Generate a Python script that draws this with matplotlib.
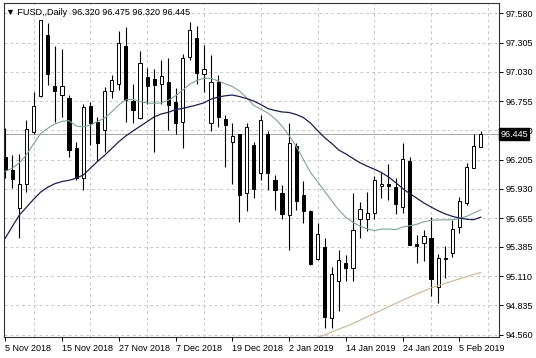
import matplotlib
matplotlib.use('Agg')
import matplotlib.pyplot as plt
import matplotlib.transforms as mtransforms

plt.rcParams['font.family'] = ['Liberation Sans', 'DejaVu Sans']

# OHLC data (daily bars, 5 Nov 2018 - 8 Feb 2019)
opens = [96.23, 96.11, 95.75, 95.98, 96.46, 96.80, 97.38, 96.90, 96.81, 96.78,
         96.31, 96.03, 96.71, 96.56, 96.48, 96.85, 96.92, 97.27, 96.76, 96.60,
         96.98, 96.96, 96.92, 96.93, 96.75, 96.56, 97.17, 97.35, 97.01, 96.55,
         96.93, 96.59, 96.37, 96.45, 95.89, 96.34, 96.08, 96.45, 96.01, 95.89,
         95.68, 96.33, 95.87, 95.72, 95.27, 95.38, 94.72, 95.06, 95.23, 95.19,
         95.65, 95.65, 95.70, 95.96, 95.98, 95.95, 95.76, 96.19, 95.41, 95.42,
         95.47, 95.01, 95.27, 95.33, 95.57, 95.80, 96.13, 96.320]
highs = [96.50, 96.25, 96.26, 96.58, 96.84, 97.52, 97.49, 97.27, 97.24, 96.81,
         96.37, 96.73, 96.75, 96.61, 96.89, 97.00, 97.41, 97.45, 96.92, 97.23,
         97.07, 97.06, 97.14, 97.16, 96.88, 97.20, 97.50, 97.46, 97.28, 97.19,
         97.00, 96.62, 96.55, 96.45, 96.55, 96.37, 96.62, 96.47, 96.06, 95.97,
         96.55, 96.36, 96.00, 95.73, 95.61, 95.47, 95.20, 95.36, 95.31, 95.89,
         95.81, 95.90, 96.05, 96.08, 96.16, 96.03, 96.36, 96.23, 95.50, 95.54,
         95.67, 95.32, 95.39, 95.64, 95.85, 96.17, 96.45, 96.475]
lows = [96.03, 95.94, 95.47, 95.90, 96.45, 96.79, 96.91, 96.56, 96.61, 96.23,
        96.01, 95.92, 96.34, 96.19, 96.28, 96.78, 96.86, 96.56, 96.55, 96.59,
        96.73, 96.28, 96.73, 96.48, 96.45, 96.31, 97.14, 96.92, 96.84, 96.47,
        96.51, 96.14, 95.98, 95.62, 95.72, 95.84, 96.01, 95.92, 95.73, 95.65,
        95.36, 95.73, 95.61, 95.21, 95.26, 94.62, 94.62, 94.78, 95.06, 95.06,
        95.47, 95.53, 95.65, 95.84, 95.83, 95.69, 95.70, 95.40, 95.23, 95.25,
        94.92, 94.86, 95.09, 95.29, 95.52, 95.78, 96.13, 96.320]
closes = [96.11, 96.02, 95.98, 96.49, 96.71, 97.52, 97.01, 96.85, 96.90, 96.30,
          96.03, 96.70, 96.55, 96.36, 96.85, 96.95, 97.30, 96.77, 96.67, 97.11,
          96.90, 96.91, 96.99, 96.72, 96.55, 97.16, 97.42, 97.02, 97.06, 96.93,
          96.61, 96.53, 96.43, 95.87, 96.51, 95.93, 96.58, 96.08, 95.92, 95.69,
          96.36, 95.82, 95.72, 95.22, 95.51, 94.73, 95.13, 95.26, 95.19, 95.54,
          95.74, 95.70, 96.01, 95.98, 95.96, 95.79, 96.21, 95.40, 95.39, 95.49,
          95.08, 95.28, 95.28, 95.55, 95.82, 96.14, 96.33, 96.445]

# moving averages as drawn on the chart
ma_fast = [96.095, 96.124, 96.175, 96.252, 96.353, 96.450, 96.500, 96.540, 96.565, 96.571,
           96.521, 96.513, 96.529, 96.563, 96.596, 96.653, 96.719, 96.767, 96.772, 96.751,
           96.737, 96.734, 96.739, 96.763, 96.805, 96.858, 96.913, 96.950, 96.969, 96.969,
           96.944, 96.918, 96.892, 96.850, 96.788, 96.715, 96.681, 96.643, 96.591, 96.520,
           96.431, 96.330, 96.209, 96.086, 95.998, 95.908, 95.819, 95.731, 95.663, 95.615,
           95.580, 95.554, 95.538, 95.552, 95.553, 95.547, 95.572, 95.583, 95.598, 95.621,
           95.635, 95.638, 95.639, 95.641, 95.650, 95.672, 95.702, 95.734]
ma_mid = [95.466, 95.577, 95.684, 95.758, 95.832, 95.900, 95.946, 95.979, 95.999, 96.011,
          96.030, 96.061, 96.123, 96.188, 96.245, 96.309, 96.373, 96.428, 96.474, 96.518,
          96.562, 96.607, 96.634, 96.650, 96.675, 96.687, 96.702, 96.719, 96.739, 96.773,
          96.793, 96.805, 96.812, 96.798, 96.779, 96.756, 96.723, 96.685, 96.667, 96.653,
          96.648, 96.629, 96.601, 96.549, 96.479, 96.412, 96.357, 96.295, 96.258, 96.216,
          96.175, 96.144, 96.115, 96.084, 96.042, 95.990, 95.933, 95.886, 95.842, 95.797,
          95.760, 95.724, 95.695, 95.672, 95.656, 95.645, 95.640, 95.664]
ma_slow_start = 44
ma_slow = [94.534, 94.557, 94.585, 94.613, 94.637, 94.665, 94.696, 94.728, 94.759, 94.790,
           94.822, 94.853, 94.884, 94.914, 94.942, 94.971, 94.999, 95.022, 95.043, 95.064,
           95.085, 95.105, 95.126, 95.144]

date_labels = ['5 Nov 2018', '15 Nov 2018', '27 Nov 2018', '7 Dec 2018', '19 Dec 2018',
               '2 Jan 2019', '14 Jan 2019', '24 Jan 2019', '5 Feb 2019']
price_ticks = [97.580, 97.305, 97.030, 96.755, 96.480, 96.205, 95.930, 95.655,
               95.385, 95.110, 94.835, 94.560]

n = len(opens)
idx = list(range(n))

fig = plt.figure(figsize=(5.36, 3.58), dpi=100)
ax = fig.add_axes([3.5 / 536, 21 / 358, 495 / 536, 334 / 358])

# wicks
ax.vlines(idx, lows, highs, color='black', linewidth=0.8, zorder=3)

# bodies
bottoms = [min(o, c) for o, c in zip(opens, closes)]
heights = [max(abs(c - o), 0.004) for o, c in zip(opens, closes)]
colors = ['white' if c >= o else 'black' for o, c in zip(opens, closes)]
ax.bar(idx, heights, bottom=bottoms, width=0.45, color=colors,
       edgecolor='black', linewidth=0.7, zorder=4)

# moving averages
ax.plot(idx, ma_fast, color='#7fa595', linewidth=0.8, zorder=5)
ax.plot(idx, ma_mid, color='#1c1f4e', linewidth=0.9, zorder=5)
ax.plot(range(ma_slow_start, ma_slow_start + len(ma_slow)), ma_slow,
        color='#c9b58f', linewidth=0.8, zorder=5)

# bid line
ax.axhline(closes[-1], color='#a8a8a8', linewidth=0.7, zorder=2)

ax.set_xlim(-0.24, 69.5)
ax.set_ylim(94.538, 97.677)

ax.yaxis.tick_right()
ax.set_yticks(price_ticks)
ax.set_yticklabels(['%.3f' % p for p in price_ticks])
ax.set_xticks(list(range(0, 65, 8)))
ax.set_xticklabels(date_labels, ha='left')
ax.set_xticks(list(range(0, 70, 4)), minor=True)
ax.tick_params(axis='both', which='major', labelsize=6.5, length=3, width=0.7,
               color='black', direction='out')
ax.tick_params(axis='x', which='major', pad=2)
ax.tick_params(axis='y', which='major', pad=2)
ax.tick_params(axis='x', which='minor', length=0)

ax.grid(True, which='minor', axis='x', linestyle=(0, (3, 3)), color='#c8c8c8', linewidth=0.7)
ax.grid(True, which='major', axis='y', linestyle=(0, (3, 3)), color='#c8c8c8', linewidth=0.7)
ax.set_axisbelow(True)

for s in ax.spines.values():
    s.set_color('#333333')
    s.set_linewidth(0.8)

# header
ax.text(0.006, 0.985, '\u25bc FUSD,,Daily  96.320 96.475 96.320 96.445',
        transform=ax.transAxes, ha='left', va='top', fontsize=6.5,
        family=['Liberation Sans', 'DejaVu Sans'])

# current price tag (covers the 96.480 label, as in the terminal)
trans = mtransforms.blended_transform_factory(ax.transAxes, ax.transData)
ax.text(1.004, closes[-1], '%.3f' % closes[-1], transform=trans, ha='left', va='center',
        fontsize=6.5, color='white', zorder=10,
        bbox=dict(boxstyle='square,pad=0.15', facecolor='black', edgecolor='black'))

fig.savefig('out.png', dpi=100)
